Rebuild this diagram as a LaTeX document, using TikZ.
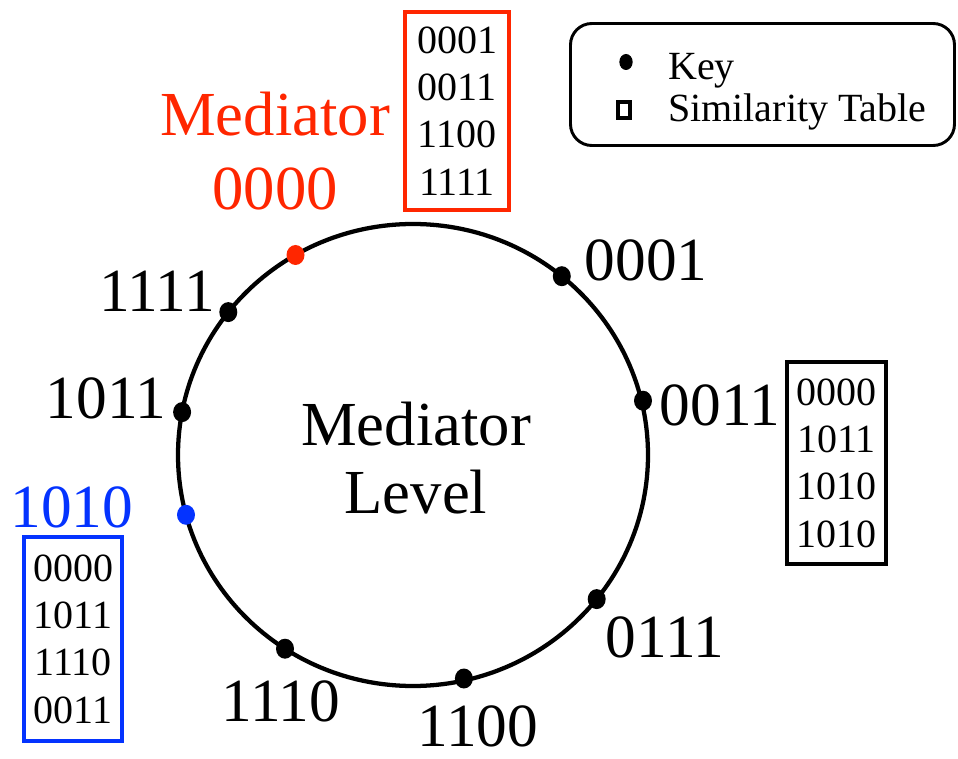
\documentclass[tikz,border=0pt]{standalone}
\usepackage{fontspec}
\setmainfont{Liberation Serif}
\usetikzlibrary{shapes.geometric}
\definecolor{medred}{RGB}{255,38,0}
\definecolor{medblue}{RGB}{4,51,255}
\begin{document}
\begin{tikzpicture}[x=0.75pt,y=-0.75pt,
    ring/.style={draw,ellipse,line width=3.2pt,inner sep=0pt},
    keydot/.style={ellipse,fill,inner sep=0pt,minimum width=13.5pt,minimum height=15pt},
    keylabel/.style={inner sep=0pt,align=center,font=\fontsize{46}{55}\selectfont},
    simtable/.style={draw,line width=3pt,inner sep=0pt,align=center,font=\fontsize{30}{35.5}\selectfont},
    legendtext/.style={inner sep=0pt,anchor=base west,font=\fontsize{30}{36}\selectfont}]
    \useasboundingbox (0,0) rectangle (958,759);
    % mediator level ring
    \node [ring,minimum width=352.5pt,minimum height=346.5pt] (ring) at (413,455) {};
    \node [keylabel,font=\fontsize{47}{51}\selectfont] (level) at (416,458) {Mediator\\Level};
    % keys on the ring
    \node [keydot,fill=medred] (K0000) at (295.5,255.0) {};
    \node [keydot] (K0001) at (561.8,276.2) {};
    \node [keydot] (K0011) at (643.0,400.7) {};
    \node [keydot] (K0111) at (596.7,599.1) {};
    \node [keydot] (K1100) at (463.9,678.5) {};
    \node [keydot] (K1110) at (285.0,648.7) {};
    \node [keydot] (K1111) at (228.3,312.1) {};
    \node [keydot] (K1011) at (182.1,412.1) {};
    \node [keydot,fill=medblue] (K1010) at (186.0,514.8) {};
    % key labels
    \node [keylabel,text=medred,font=\fontsize{47}{55}\selectfont] (L0000) at (275,151) {Mediator\\0000};
    \node [keylabel] (L0001) at (646,260) {0001};
    \node [keylabel] (L0011) at (720,405) {0011};
    \node [keylabel] (L0111) at (665,637) {0111};
    \node [keylabel] (L1100) at (478,726) {1100};
    \node [keylabel] (L1110) at (281,701) {1110};
    \node [keylabel] (L1111) at (157,291) {1111};
    \node [keylabel] (L1011) at (106,398) {1011};
    \node [keylabel,text=medblue] (L1010) at (72,507) {1010};
    % similarity tables
    \node [simtable,draw=medred,minimum width=78pt,minimum height=148.5pt] (T0000) at (457,111) {0001\\0011\\1100\\1111};
    \node [simtable,minimum width=74pt,minimum height=151.5pt] (T0011) at (836.5,463) {0000\\1011\\1010\\1010};
    \node [simtable,draw=medblue,minimum width=73.5pt,minimum height=153pt] (T1010) at (73,639) {0000\\1011\\1110\\0011};
    % legend
    \node [draw,line width=2.2pt,rounded corners=16pt,minimum width=288pt,minimum height=91.5pt] (legend) at (762.5,84.5) {};
    \node [keydot,minimum width=10pt,minimum height=12pt] (legkey) at (626,62) {};
    \node [draw,line width=3pt,inner sep=0pt,minimum width=8.5pt,minimum height=12pt] (legtab) at (624,110.5) {};
    \node [legendtext] (legkeytext) at (668,80) {Key};
    \node [legendtext] (legtabtext) at (668,122) {Similarity Table};
  \end{tikzpicture}
\end{document}
